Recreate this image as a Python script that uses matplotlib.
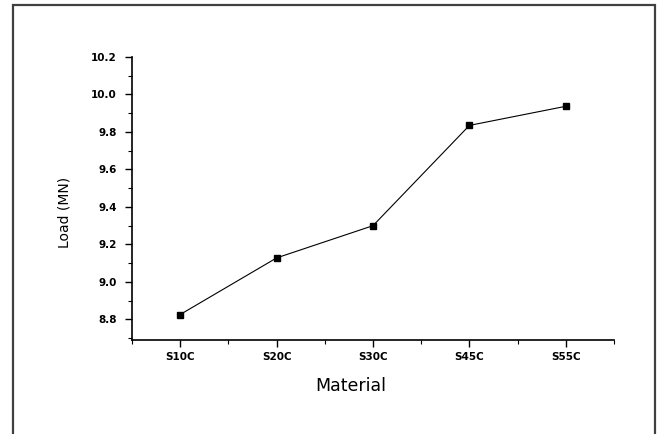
import matplotlib
matplotlib.use("Agg")
import matplotlib.pyplot as plt
from matplotlib.patches import Rectangle
from matplotlib.ticker import MultipleLocator, FixedLocator

categories = ["S10C", "S20C", "S30C", "S45C", "S55C"]
load_mn = [8.826, 9.128, 9.30, 9.835, 9.937]
yticks = [8.8, 9.0, 9.2, 9.4, 9.6, 9.8, 10.0, 10.2]

fig = plt.figure(figsize=(6.6, 4.34), dpi=100)
fig.patch.set_facecolor("white")

# outer frame
fig.patches.append(Rectangle((13/660, -0.05), (655-13)/660, 1.05 - 5/434,
                             transform=fig.transFigure, fill=False,
                             edgecolor="#404040", linewidth=1.6))

ax = fig.add_axes([132/660, 1-340/434, (614-132)/660, (340-57)/434])
x = list(range(1, len(categories)+1))
ax.plot(x, load_mn, color="black", linewidth=0.8, marker="s", markersize=4,
        markerfacecolor="black", markeredgecolor="black")

ax.set_xlim(0.5, 5.5)
ax.set_ylim(8.69, 10.2)
ax.set_xticks(x)
ax.set_xticklabels(categories)
ax.xaxis.set_minor_locator(FixedLocator([0.5, 1.5, 2.5, 3.5, 4.5, 5.5]))
ax.set_yticks(yticks)
ax.set_yticklabels([f"{v:.1f}" for v in yticks])
ax.yaxis.set_minor_locator(MultipleLocator(0.1))

for s in ["top", "right"]:
    ax.spines[s].set_visible(False)
for s in ["left", "bottom"]:
    ax.spines[s].set_linewidth(1.2)

ax.tick_params(axis="both", which="major", direction="out", length=5, width=1.0,
               labelsize=7.5)
ax.tick_params(axis="y", which="major", pad=6)
ax.tick_params(axis="both", which="minor", direction="out", length=3, width=0.8)
for lbl in ax.get_xticklabels() + ax.get_yticklabels():
    lbl.set_fontweight("bold")

ax.set_ylabel("Load (MN)", fontsize=10)
ax.yaxis.set_label_coords(-0.125, 0.45)
ax.set_xlabel("Material", fontsize=12.5)
ax.xaxis.set_label_coords(0.453, -0.132)

fig.savefig("out.png", dpi=100)
